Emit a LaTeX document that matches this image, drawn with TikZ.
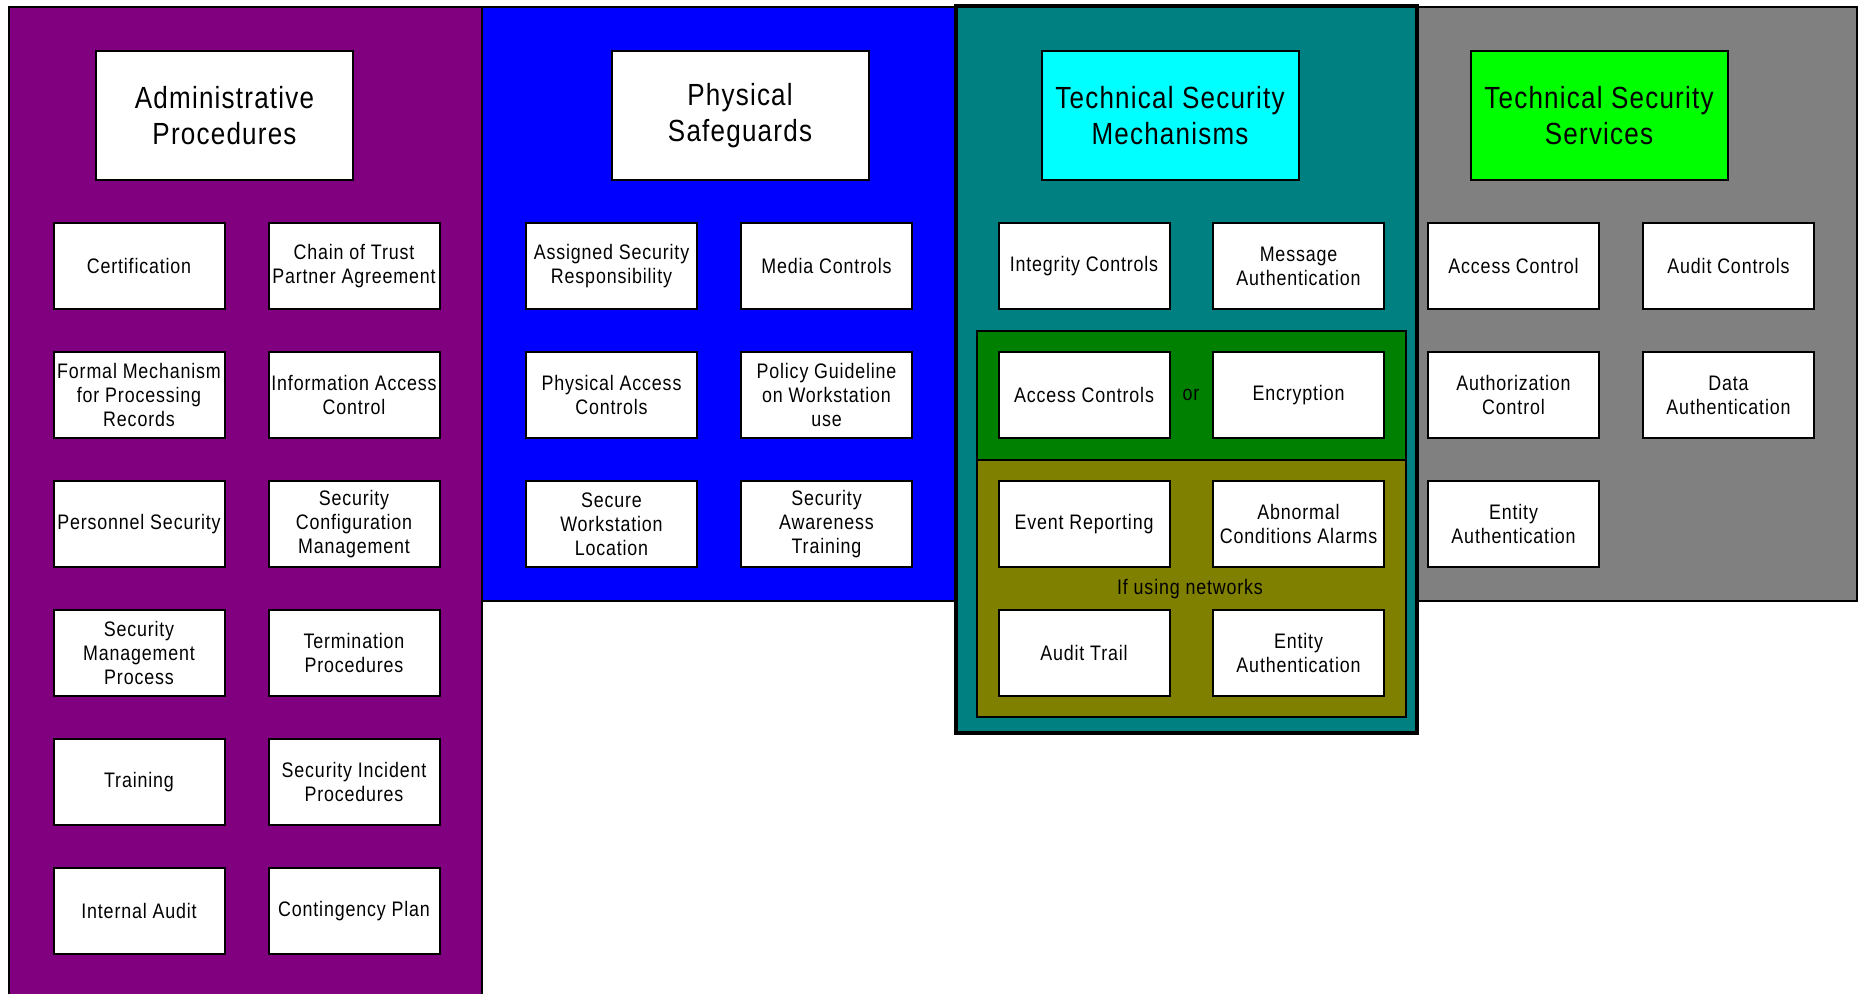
\documentclass[tikz,border=0pt]{standalone}
\usepackage{fontspec}
\setmainfont{Liberation Sans}[FakeStretch=0.85, LetterSpace=4]
\begin{document}
\begin{tikzpicture}[x=0.5pt, y=-0.5pt,
  panel/.style={draw=black, line width=1pt},
  headbox/.style={draw=black, line width=1pt, fill=white, minimum width=128.5pt,
    minimum height=64.5pt, inner sep=0pt, align=center,
    font=\fontsize{15.3}{18}\selectfont},
  item/.style={draw=black, line width=1pt, fill=white, minimum width=85.5pt,
    minimum height=43pt, inner sep=0pt, align=center,
    font=\fontsize{10.5}{11.9}\selectfont},
  note/.style={inner sep=0pt, font=\fontsize{10.5}{11.9}\selectfont}]
\useasboundingbox (0,0) rectangle (1862,994);
\fill[white] (0,0) rectangle (1862,994);

% column panels
\path[panel, fill={rgb,255:red,128;green,0;blue,128}] (9,7) rectangle (482,1004);
\path[panel, fill={rgb,255:red,0;green,0;blue,255}] (482,7) rectangle (956,601);
\path[panel, fill={rgb,255:red,128;green,128;blue,128}] (1417,7) rectangle (1857,601);
\path[draw=black, line width=1.7pt, fill={rgb,255:red,0;green,128;blue,128}] (956,6) rectangle (1417,733);
\path[panel, fill={rgb,255:red,0;green,128;blue,0}] (977,331) rectangle (1406,460);
\path[panel, fill={rgb,255:red,128;green,128;blue,0}] (977,460) rectangle (1406,717);

% headings
\node[headbox] (adm) at (224.5,115.5) {Administrative\\Procedures};
\node[headbox] (phy) at (740,115.5) {Physical\\Safeguards};
\node[headbox, fill={rgb,255:red,0;green,255;blue,255}] (tsm) at (1170,115.5) {Technical Security\\Mechanisms};
\node[headbox, fill={rgb,255:red,0;green,255;blue,0}] (tss) at (1599,115.5) {Technical Security\\Services};

% administrative procedures
\node[item] (a1) at (139,266) {Certification};
\node[item] (a2) at (354,266) {Chain of Trust\\Partner Agreement};
\node[item] (a3) at (139,395) {Formal Mechanism\\for Processing\\Records};
\node[item] (a4) at (354,395) {Information Access\\Control};
\node[item] (a5) at (139,524) {Personnel Security};
\node[item] (a6) at (354,524) {Security\\Configuration\\Management};
\node[item] (a7) at (139,653) {Security\\Management\\Process};
\node[item] (a8) at (354,653) {Termination\\Procedures};
\node[item] (a9) at (139,782) {Training};
\node[item] (a10) at (354,782) {Security Incident\\Procedures};
\node[item] (a11) at (139,911) {Internal Audit};
\node[item] (a12) at (354,911) {Contingency Plan};

% physical safeguards
\node[item] (p1) at (611.5,266) {Assigned Security\\Responsibility};
\node[item] (p2) at (826.5,266) {Media Controls};
\node[item] (p3) at (611.5,395) {Physical Access\\Controls};
\node[item] (p4) at (826.5,395) {Policy Guideline\\on Workstation\\use};
\node[item] (p5) at (611.5,524) {Secure\\Workstation\\Location};
\node[item] (p6) at (826.5,524) {Security\\Awareness\\Training};

% technical security mechanisms
\node[item] (m1) at (1084,266) {Integrity Controls};
\node[item] (m2) at (1298.5,266) {Message\\Authentication};
\node[item] (m3) at (1084,395) {Access Controls};
\node[item] (m4) at (1298.5,395) {Encryption};
\node[note] (mor) at (1191,395) {or};
\node[item] (m5) at (1084,524) {Event Reporting};
\node[item] (m6) at (1298.5,524) {Abnormal\\Conditions Alarms};
\node[note] (mnet) at (1190,589) {If using networks};
\node[item] (m7) at (1084,653) {Audit Trail};
\node[item] (m8) at (1298.5,653) {Entity\\Authentication};

% technical security services
\node[item] (s1) at (1513.5,266) {Access Control};
\node[item] (s2) at (1728.5,266) {Audit Controls};
\node[item] (s3) at (1513.5,395) {Authorization\\Control};
\node[item] (s4) at (1728.5,395) {Data\\Authentication};
\node[item] (s5) at (1513.5,524) {Entity\\Authentication};
\end{tikzpicture}
\end{document}
